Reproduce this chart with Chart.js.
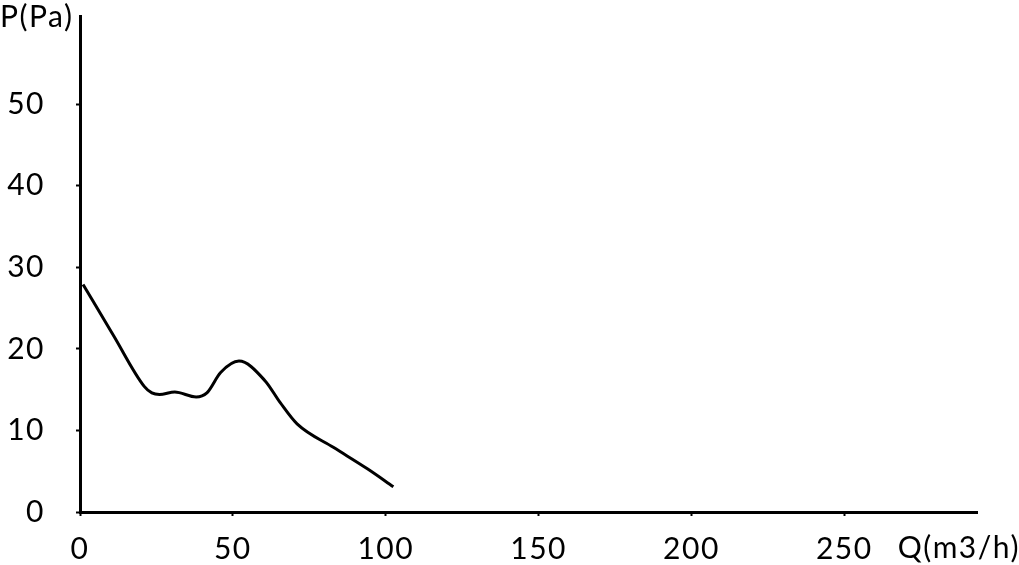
<!DOCTYPE html>
<html>
<head>
<meta charset="utf-8">
<script src="https://cdn.jsdelivr.net/npm/chart.js@4/dist/chart.umd.min.js"></script>
<style>
html,body{margin:0;padding:0;background:#fff;}
#wrap{width:1019px;height:565px;position:relative;}
</style>
</head>
<body>
<div id="wrap"><canvas id="c" width="1019" height="565"></canvas></div>
<script>
const flowQ = [1, 11, 21, 23.5, 26, 31, 38, 41.5, 46, 52, 60.5, 65.5, 71, 83, 94, 102.5];
const pressureP = [27.9, 21.6, 15.4, 14.6, 14.4, 14.7, 14.1, 14.6, 17.1, 18.5, 16.1, 13.4, 10.8, 7.9, 5.3, 3.1];
const xTickValues = [0, 50, 100, 150, 200, 250];
const yTickValues = [0, 10, 20, 30, 40, 50];
const xTitle = 'Q(m3/h)';
const yTitle = 'P(Pa)';

const FONT = 'Lato';
const FS = 30;
const LS = '1.5px';

const spacingPlugin = {
  id: 'spacing',
  beforeInit(chart) { chart.ctx.letterSpacing = LS; },
  beforeDraw(chart) { chart.ctx.letterSpacing = LS; }
};

const titlePlugin = {
  id: 'axisTitles',
  afterDraw(chart) {
    const ctx = chart.ctx;
    ctx.save();
    ctx.letterSpacing = LS;
    ctx.fillStyle = '#000';
    ctx.font = FS + 'px ' + FONT;
    ctx.textBaseline = 'alphabetic';
    ctx.textAlign = 'left';
    ctx.fillText(yTitle, 0, 27);
    ctx.textAlign = 'right';
    ctx.fillText(xTitle, 1020, 558);
    ctx.restore();
  }
};

new Chart(document.getElementById('c'), {
  type: 'line',
  data: {
    datasets: [{
      data: flowQ.map((q, i) => ({x: q, y: pressureP[i]})),
      borderColor: '#000',
      borderWidth: 3,
      pointRadius: 0,
      fill: false,
      cubicInterpolationMode: 'monotone'
    }]
  },
  options: {
    responsive: false,
    animation: false,
    layout: {padding: {top: 16, right: 42, left: 0, bottom: 0}},
    plugins: {legend: {display: false}, tooltip: {enabled: false}},
    scales: {
      x: {
        type: 'linear',
        min: 0,
        max: 293.4,
        afterFit(s) { s.height = 53; s.paddingLeft = 0; s.paddingRight = 0; },
        afterBuildTicks(s) { s.ticks = xTickValues.map(v => ({value: v})); },
        grid: {drawOnChartArea: false, drawTicks: true, tickLength: 4, tickWidth: 2, tickColor: '#000'},
        border: {display: true, color: '#000', width: 3},
        ticks: {color: '#000', font: {family: FONT, size: FS}, padding: 15, maxRotation: 0, autoSkip: false}
      },
      y: {
        type: 'linear',
        min: 0,
        max: 60.8,
        afterFit(s) { s.width = 80; s.paddingTop = 0; s.paddingBottom = 0; },
        afterBuildTicks(s) { s.ticks = yTickValues.map(v => ({value: v})); },
        grid: {drawOnChartArea: false, drawTicks: true, tickLength: 4, tickWidth: 2, tickColor: '#000'},
        border: {display: true, color: '#000', width: 3},
        ticks: {color: '#000', font: {family: FONT, size: FS}, padding: 31, autoSkip: false}
      }
    }
  },
  plugins: [spacingPlugin, titlePlugin]
});
</script>
</body>
</html>
